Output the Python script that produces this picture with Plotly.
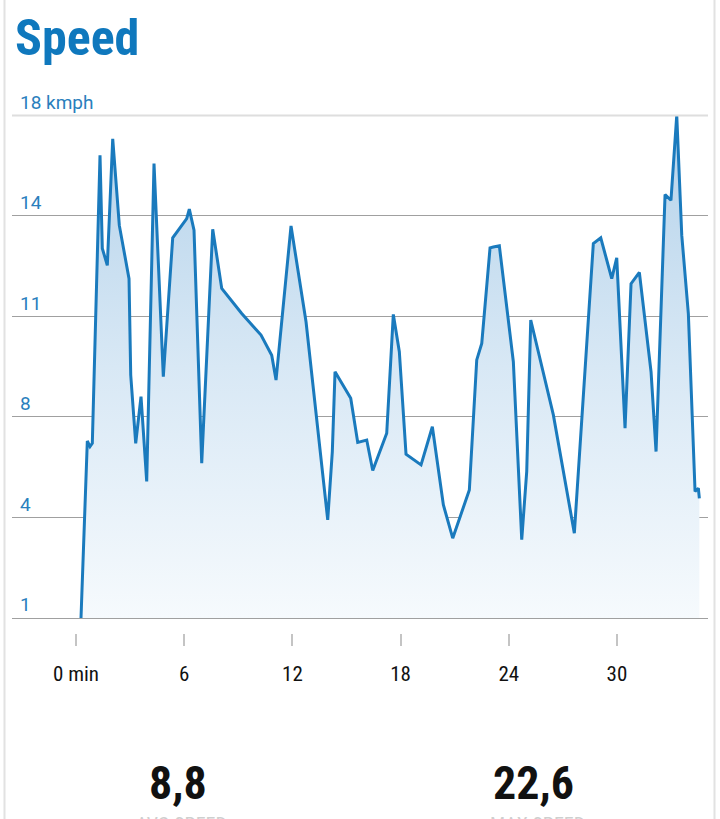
import plotly.graph_objects as go

# ---- data ----
minutes = [0.277, 0.627, 0.776, 0.904, 1.331, 1.459, 1.736, 2.036, 2.402, 2.940,
           3.034, 3.311, 3.605, 3.921, 4.326, 4.842, 5.363, 6.140, 6.284, 6.545,
           6.972, 7.582, 8.081, 9.190, 10.261, 10.854, 11.093, 11.925, 12.757, 13.960,
           14.215, 14.365, 15.236, 15.624, 16.123, 16.456, 17.232, 17.598, 17.931, 18.303,
           19.135, 19.762, 20.372, 20.893, 21.814, 22.224, 22.502, 22.962, 23.145, 23.478,
           24.254, 24.720, 24.997, 25.219, 26.473, 27.637, 28.691, 29.102, 29.712, 29.989,
           30.449, 30.782, 31.243, 31.891, 32.169, 32.668, 32.995, 33.317, 33.594, 33.960,
           34.332, 34.515, 34.570]
speed_kmph = [1.0, 6.99, 6.80, 6.91, 16.65, 13.50, 12.93, 17.21, 14.28, 12.48,
              9.22, 6.91, 8.49, 5.62, 16.37, 9.16, 13.86, 14.51, 14.83, 14.12,
              6.24, 14.15, 12.15, 11.30, 10.57, 9.89, 9.05, 14.26, 11.02, 4.32,
              6.63, 9.33, 8.43, 6.94, 7.02, 5.99, 7.25, 11.27, 10.01, 6.54,
              6.18, 7.47, 4.83, 3.70, 5.33, 9.73, 10.29, 13.52, 13.55, 13.59,
              9.67, 3.65, 5.96, 11.08, 7.87, 3.87, 13.67, 13.86, 12.48, 13.18,
              7.42, 12.31, 12.69, 9.33, 6.63, 15.32, 15.13, 18.0, 13.95, 11.30,
              5.28, 5.39, 5.05]
baseline_kmph = [1.0] * len(minutes)

y_tickvals = [1, 4.4, 7.8, 11.2, 14.6, 18]
y_ticktext = ["1", "4", "8", "11", "14", "18 kmph"]
x_tickvals = [0, 6, 12, 18, 24, 30]
x_ticktext = ["0 min", "6", "12", "18", "24", "30"]

title_text = "Speed"
summary_values = ["8,8", "22,6"]
summary_labels = ["AVG SPEED", "MAX SPEED"]

BLUE = "#1a7abd"
NARROW = "Liberation Sans Narrow, Roboto Condensed, Roboto, sans-serif"

fig = go.Figure()
fig.add_trace(go.Scatter(x=minutes, y=baseline_kmph, mode="lines",
                         line=dict(width=0), hoverinfo="skip", showlegend=False))
fig.add_trace(go.Scatter(
    x=minutes, y=speed_kmph, mode="lines", fill="tonexty",
    line=dict(color=BLUE, width=3),
    fillgradient=dict(type="vertical", start=1, stop=18,
                      colorscale=[[0, "#f6fafd"], [0.5, "#d8e8f5"], [1, "#b4d2ea"]]),
    showlegend=False))

fig.update_layout(
    width=720, height=819,
    margin=dict(l=12, r=12, t=111, b=186, pad=0),
    paper_bgcolor="white", plot_bgcolor="white",
    title=dict(text="<b>" + title_text + "</b>", x=15 / 720, xanchor="left",
               y=1 - 37 / 819, yanchor="middle",
               font=dict(family=NARROW, size=50, color="#0f78bd")),
    xaxis=dict(range=[-3.55, 35.05], tickvals=x_tickvals, ticktext=x_ticktext,
               showgrid=False, zeroline=False, showline=False,
               ticks="outside", ticklen=12, tickwidth=2, tickcolor="#c4c4c4",
               ticklabelstandoff=10,
               tickfont=dict(family=NARROW, size=21, color="#111111")),
    yaxis=dict(range=[0.493, 18.15], tickvals=y_tickvals, ticktext=y_ticktext,
               showgrid=True, gridcolor="#a0a0a0", gridwidth=1, zeroline=False,
               showline=False, ticks="", ticklabelposition="inside top",
               ticklabeloverflow="allow", ticklabelstandoff=5,
               tickfont=dict(family="Roboto, sans-serif", size=19, color="#2a7fbd")),
    showlegend=False,
)

# lighter top rule at 18 kmph
fig.add_shape(type="line", xref="paper", yref="y", x0=0, x1=1, y0=18, y1=18,
              line=dict(color="#dedede", width=2), layer="above")
# card edges
for xp in (-7.5 / 696, 702.5 / 696):
    fig.add_shape(type="line", xref="paper", yref="paper", x0=xp, x1=xp,
                  y0=-0.36, y1=1.22, line=dict(color="#e2e2e2", width=2))

# summary numbers below chart
for xp, val, lab in zip([166 / 696, 521 / 696], summary_values, summary_labels):
    fig.add_annotation(xref="paper", yref="paper", x=xp, y=(633 - 783) / 522,
                       text="<b>" + val + "</b>", showarrow=False,
                       xanchor="center", yanchor="middle",
                       font=dict(family=NARROW, size=46, color="#111111"))
    fig.add_annotation(xref="paper", yref="paper", x=xp + 4 / 696, y=(633 - 811) / 522,
                       text=lab, showarrow=False, xanchor="center", yanchor="top",
                       font=dict(family=NARROW, size=20, color="#cfcfcf"))

fig.write_html("out.html")
